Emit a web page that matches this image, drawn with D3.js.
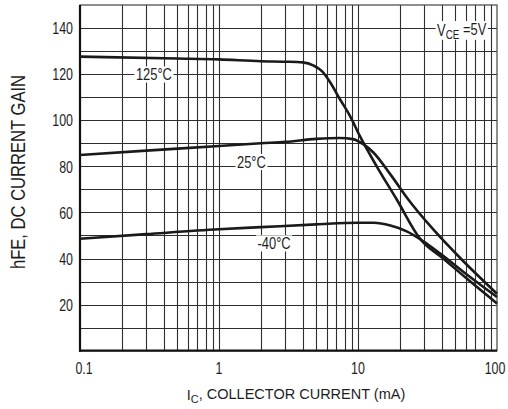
<!DOCTYPE html>
<html>
<head>
<meta charset="utf-8">
<script src="https://cdn.jsdelivr.net/npm/d3@7"></script>
<style>
  html, body { margin: 0; padding: 0; background: #fff; }
  svg { display: block; }
</style>
</head>
<body>
<div id="chart"></div>
<script>
// collector current (mA) and DC current gain
const ic125 = [0.1, 0.5, 1, 2, 3, 4, 4.8, 5.5, 6.3, 7.4, 8.75, 10.3, 13.6, 19, 28, 41, 60, 100];
const hfe125 = [127.6, 126.8, 126.4, 125.6, 125.4, 125.1, 123.7, 121.3, 116.5, 109.2, 101.9, 93.2, 80.1, 65.6, 48.5, 40, 31.5, 20.5];

const ic25 = [0.1, 0.3, 1, 2, 3, 5, 7.4, 9.2, 10.9, 12.9, 17.1, 23, 34.8, 57.3, 100];
const hfe25 = [84.9, 86.8, 88.8, 90, 90.6, 91.9, 92.3, 91.8, 89.6, 86, 76.5, 65.6, 52.6, 38.8, 24.7];

const icM40 = [0.1, 0.3, 1, 2, 5, 10, 13, 17.1, 22.4, 29.5, 38.6, 60, 100];
const hfeM40 = [48.6, 50.6, 52.7, 53.6, 54.8, 55.5, 55.5, 54.3, 51.8, 47.5, 42.4, 33.3, 23.3];

const seriesNames = ["125°C", "25°C", "-40°C"];
const xTickLabels = [0.1, 1, 10, 100];
const yTickLabels = [20, 40, 60, 80, 100, 120, 140];

const width = 508, height = 409;
const m = { left: 80, right: 497, top: 5, bottom: 350.7 };

const svg = d3.select("#chart").append("svg")
  .attr("width", width)
  .attr("height", height);

const x = d3.scaleLog().domain([0.1, 100]).range([m.left, m.right]);
const y = d3.scaleLinear().domain([0, 150]).range([m.bottom, m.top]);

const font = "'Liberation Sans', Arial, sans-serif";

// condensed text: regular face squeezed horizontally
function squeezed(parent, px, py, size, sx, anchor, rot) {
  const g = parent.append("g")
    .attr("transform", `translate(${px},${py})` + (rot ? ` rotate(${rot})` : "") + ` scale(${sx},1)`);
  const t = g.append("text")
    .attr("text-anchor", anchor)
    .style("font", `${size}px ${font}`)
    .attr("fill", "#1e1e1e");
  return { g, t };
}

// grid
const vGrid = [];
[0.1, 1, 10].forEach(d => { for (let k = 2; k <= 9; k++) vGrid.push(d * k); });
[1, 10].forEach(d => vGrid.push(d));
const hGrid = d3.range(10, 150, 10);

svg.append("g").selectAll("line").data(vGrid).join("line")
  .attr("x1", d => Math.round(x(d)) + 0.5).attr("x2", d => Math.round(x(d)) + 0.5)
  .attr("y1", m.top).attr("y2", m.bottom)
  .attr("stroke", "#2e2e2e").attr("stroke-width", 1.1);

svg.append("g").selectAll("line").data(hGrid).join("line")
  .attr("x1", m.left).attr("x2", m.right)
  .attr("y1", d => Math.round(y(d)) + 0.5).attr("y2", d => Math.round(y(d)) + 0.5)
  .attr("stroke", "#2e2e2e").attr("stroke-width", 1.1);

// frame
svg.append("rect")
  .attr("x", m.left).attr("y", m.top)
  .attr("width", m.right - m.left).attr("height", m.bottom - m.top)
  .attr("fill", "none").attr("stroke", "#444").attr("stroke-width", 1.2);
svg.append("line").attr("x1", m.left).attr("x2", m.left).attr("y1", m.top).attr("y2", m.bottom + 1)
  .attr("stroke", "#111").attr("stroke-width", 2.2);
svg.append("line").attr("x1", m.left - 1).attr("x2", m.right).attr("y1", m.bottom).attr("y2", m.bottom)
  .attr("stroke", "#111").attr("stroke-width", 2.2);

// tick labels
yTickLabels.forEach(d => {
  squeezed(svg, m.left - 7, y(d) + 6.2, 17, 0.73, "end").t.text(d);
});
xTickLabels.forEach(d => {
  const off = d === 0.1 ? 4 : d === 100 ? -2 : 0;
  squeezed(svg, x(d) + off, 374, 17, 0.73, "middle").t.text(d);
});

// curves
const line = d3.line().x(d => x(d[0])).y(d => y(d[1])).curve(d3.curveMonotoneX);
const curves = [d3.zip(ic125, hfe125), d3.zip(ic25, hfe25), d3.zip(icM40, hfeM40)];
svg.append("g").selectAll("path").data(curves).join("path")
  .attr("d", line)
  .attr("fill", "none").attr("stroke", "#1a1a1a").attr("stroke-width", 2.6)
  .attr("stroke-linejoin", "round");

// curve labels with white boxes
function boxLabel(cx, cy, build) {
  const { g, t } = squeezed(svg, cx, cy + 6, 17, 0.76, "middle");
  build(t);
  const b = t.node().getBBox();
  g.insert("rect", "text")
    .attr("x", b.x - 2).attr("y", b.y + 2)
    .attr("width", b.width + 4).attr("height", b.height - 3)
    .attr("fill", "#fff");
}
boxLabel(x(0.34), y(120), t => t.text(seriesNames[0]));
boxLabel(x(1.71), y(82), t => t.text(seriesNames[1]));
boxLabel(x(2.49), y(46.7), t => t.text(seriesNames[2]));
boxLabel(x(55.7), y(139.3), t => {
  t.append("tspan").text("V");
  t.append("tspan").attr("font-size", "13px").attr("dy", "0.22em").text("CE");
  t.append("tspan").attr("dy", "-0.22em").text(" =5V");
});

// axis titles
squeezed(svg, 25, 172, 20, 0.83, "middle", -90).t.text("hFE, DC CURRENT GAIN");

const xt = svg.append("text")
  .attr("x", 296).attr("y", 400)
  .attr("text-anchor", "middle")
  .style("font", `14.5px ${font}`).attr("fill", "#1e1e1e");
xt.append("tspan").text("I");
xt.append("tspan").attr("font-size", "11px").attr("dy", "0.3em").text("C");
xt.append("tspan").attr("dy", "-0.3em").text(", COLLECTOR CURRENT (mA)");
</script>
</body>
</html>
